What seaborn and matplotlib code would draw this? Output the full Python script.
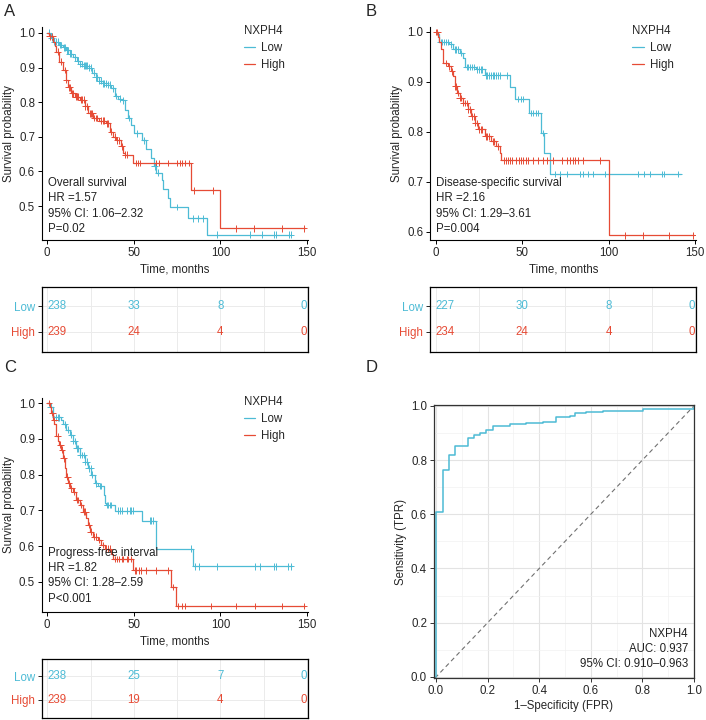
import numpy as np
import pandas as pd
import seaborn as sns
import matplotlib.pyplot as plt
from matplotlib.ticker import MultipleLocator

sns.set_style('ticks')
plt.rcParams['font.family'] = ['Liberation Sans', 'DejaVu Sans']
FS = 8.3
plt.rcParams['font.size'] = FS

LOW_COL = '#4DBBD5'
HIGH_COL = '#E64B35'
pal = {'Low': LOW_COL, 'High': HIGH_COL}

# ---- A: overall survival ----
a_low_t = [0, 2, 4, 7, 9, 11, 13, 15, 17, 19, 21, 24, 26, 28, 30, 32, 35, 37, 39, 41, 43, 44.8,
           46.7, 48.6, 50, 54.5, 57, 60, 61.5, 63, 66, 67, 70, 71, 81.5, 92.5, 141]
a_low_s = [1.0, 0.985, 0.975, 0.965, 0.958, 0.95, 0.94, 0.93, 0.92, 0.91, 0.905, 0.9, 0.885, 0.872,
           0.862, 0.855, 0.85, 0.84, 0.818, 0.81, 0.805, 0.778, 0.754, 0.735, 0.71, 0.69, 0.665, 0.64,
           0.615, 0.596, 0.575, 0.55, 0.523, 0.497, 0.465, 0.417, 0.417]
a_low_c = [1, 2.5, 4, 5, 6, 7.5, 8, 9.5, 10, 11.5, 12, 13, 14, 16, 17.5, 18, 19, 20, 21, 22, 22.5, 23,
           24, 25, 27, 28, 29, 30, 31, 32, 33, 34, 35, 36, 38, 40, 42, 44, 47, 52, 56, 62, 64, 74.7,
           84, 87, 90, 97.9, 117, 124, 130.7, 132, 139.4, 140.7]
a_high_t = [0, 1, 3.3, 4.5, 5.2, 7, 9, 10.6, 12, 14, 16, 18.7, 21.6, 23.5, 26.4, 30, 34, 36, 38, 40,
            42.8, 43.8, 44.8, 49.6, 83, 99.8, 148.6]
a_high_s = [1.0, 0.99, 0.975, 0.962, 0.946, 0.917, 0.893, 0.864, 0.843, 0.826, 0.816, 0.807, 0.788,
            0.768, 0.754, 0.747, 0.739, 0.715, 0.70, 0.69, 0.672, 0.653, 0.648, 0.624, 0.545, 0.436,
            0.436]
a_high_c = [1.5, 3, 6, 8, 10, 11, 12.5, 13, 14.5, 15, 16.5, 17, 18, 19.5, 20, 21, 22, 23, 24.5, 25,
            26, 27, 28, 29, 31, 32, 33, 34.5, 35, 37, 39, 40.5, 41.5, 43, 45, 46, 51.5, 52.5, 53.5,
            63, 64.6, 70, 74.7, 76.6, 78.1, 79.5, 82, 85, 96, 108.9, 119.5, 135.5, 148]
a_risk_low = [238, 33, 8, 0]
a_risk_high = [239, 24, 4, 0]

# ---- B: disease-specific survival ----
b_low_t = [0, 1.4, 2.3, 8, 10, 14, 16, 17, 23.5, 28.4, 43, 45.8, 54, 61.2, 62.5, 66, 141.9]
b_low_s = [1.0, 0.995, 0.98, 0.975, 0.965, 0.958, 0.948, 0.93, 0.925, 0.913, 0.89, 0.866, 0.838,
           0.798, 0.758, 0.716, 0.716]
b_low_c = [3, 4, 5, 6, 7, 9, 11, 12, 13, 15, 18, 19, 20, 21, 22, 24, 25, 26, 27, 29, 30, 31, 32, 33,
           34, 35, 36, 37, 41, 47.7, 49.6, 50.6, 55.4, 56.4, 58.3, 59.3, 62.2, 68.9, 71.8, 75.7,
           83.4, 85.3, 88.2, 91.1, 97.9, 117.2, 120.1, 124, 130.7, 131.7, 140.3]
b_high_t = [0, 1.4, 2.3, 3.3, 4.6, 7.1, 9, 10, 11, 12.4, 13.9, 15.8, 18.7, 20.7, 22.6, 24.5, 28.4,
            32.2, 35.1, 37, 38, 100.4, 149]
b_high_s = [1.0, 0.99, 0.98, 0.965, 0.938, 0.931, 0.921, 0.911, 0.891, 0.878, 0.868, 0.858, 0.845,
            0.831, 0.818, 0.805, 0.791, 0.781, 0.771, 0.758, 0.743, 0.593, 0.593]
b_high_c = [0.5, 1, 6, 8, 9.5, 11.5, 12, 13, 14, 15, 16, 17, 18, 19, 20, 21, 22, 23, 24, 25, 26, 27,
            29, 30, 31, 33, 34, 36, 39.4, 40.5, 41.9, 43.2, 44.4, 46.3, 48.3, 49.6, 50.6, 52.1,
            53.5, 56.4, 59.3, 62.2, 64.1, 68, 72.8, 75.7, 77.6, 79.2, 80.5, 82.4, 85.3, 95, 109.5,
            119.7, 135.1, 148.6]
b_risk_low = [227, 30, 8, 0]
b_risk_high = [234, 24, 4, 0]

# ---- C: progress-free interval ----
c_low_t = [0, 1.4, 3.3, 8.1, 9, 11, 13, 14.9, 16.8, 18.7, 21.6, 23.5, 25.5, 27.4, 29.3, 32.6, 33.2,
           34.2, 39, 55, 63.1, 84, 141.3]
c_low_s = [1.0, 0.99, 0.96, 0.953, 0.94, 0.925, 0.911, 0.894, 0.874, 0.855, 0.836, 0.818, 0.80,
           0.776, 0.768, 0.743, 0.72, 0.715, 0.699, 0.671, 0.593, 0.544, 0.544]
c_low_c = [2, 5, 6, 7, 10, 12, 14, 15, 16, 17, 18, 19, 20, 21, 22, 23, 24, 25, 26, 28.4, 30.3, 31,
           34.5, 35, 36, 37, 40.9, 41.9, 42.9, 45.8, 47.7, 48.6, 49.6, 59.3, 60.2, 61.2, 83, 85.3,
           87.8, 98.3, 119.7, 122.6, 131.1, 132.2, 138.8, 140.7]
c_high_t = [0, 1.4, 2.3, 3.3, 4.2, 5.2, 6.2, 7.1, 8.1, 9, 10, 11, 12, 13, 14.9, 16.8, 18.7, 20.7,
            22.6, 23.5, 24.5, 26.4, 29.3, 31.3, 33.2, 37.1, 38, 49.6, 71.2, 74.3, 148.6]
c_high_s = [1.0, 0.99, 0.972, 0.953, 0.94, 0.907, 0.893, 0.883, 0.869, 0.846, 0.818, 0.794, 0.776,
            0.762, 0.752, 0.729, 0.715, 0.696, 0.678, 0.659, 0.64, 0.626, 0.617, 0.603, 0.593,
            0.579, 0.564, 0.533, 0.486, 0.433, 0.433]
c_high_c = [1, 3, 4, 6, 7.5, 8.5, 9.5, 11.5, 12.5, 14, 15.5, 17, 18, 19.5, 21, 22, 24, 25, 27, 28,
            30, 32, 34.2, 35.1, 36.1, 39, 40.3, 41.5, 42.9, 43.8, 45.8, 46.7, 48.1, 50.6, 51.5,
            53.1, 54.4, 57.3, 63.1, 69.9, 72.8, 75.7, 77.6, 79.5, 94.4, 109, 119.7, 135.5, 148.1]
c_risk_low = [238, 25, 7, 0]
c_risk_high = [239, 19, 4, 0]

risk_times = [0, 50, 100, 150]

# ---- D: ROC ----
roc_fpr = [0, 0, 0.026, 0.049, 0.075, 0.123, 0.149, 0.172, 0.194, 0.22, 0.285, 0.35, 0.415, 0.464,
           0.518, 0.538, 0.583, 0.648, 0.803, 1.0]
roc_tpr = [0, 0.61, 0.765, 0.82, 0.852, 0.883, 0.891, 0.901, 0.91, 0.926, 0.932, 0.938, 0.941,
           0.957, 0.963, 0.972, 0.978, 0.981, 0.99, 0.996]


def surv_at(t_steps, s_steps, t):
    idx = np.searchsorted(t_steps, t, side='right') - 1
    return np.asarray(s_steps)[idx]


def km_panel(ax, lt, ls, lc, ht, hs, hc, ylim, yticks, note, note_y):
    df = pd.concat([pd.DataFrame({'time': lt, 'surv': ls, 'NXPH4': 'Low'}),
                    pd.DataFrame({'time': ht, 'surv': hs, 'NXPH4': 'High'})])
    sns.lineplot(data=df, x='time', y='surv', hue='NXPH4', palette=pal, drawstyle='steps-post',
                 estimator=None, lw=0.9, ax=ax)
    cens = pd.concat([pd.DataFrame({'time': lc, 'surv': surv_at(lt, ls, lc), 'NXPH4': 'Low'}),
                      pd.DataFrame({'time': hc, 'surv': surv_at(ht, hs, hc), 'NXPH4': 'High'})])
    sns.scatterplot(data=cens, x='time', y='surv', hue='NXPH4', palette=pal, marker='+', s=24,
                    linewidth=0.7, legend=False, ax=ax)
    ax.set_xlim(-3, 150.6)
    ax.set_ylim(*ylim)
    ax.set_xticks([0, 50, 100, 150])
    ax.set_yticks(yticks)
    ax.set_xlabel('Time, months', fontsize=FS, labelpad=3)
    ax.set_ylabel('Survival probability', fontsize=FS, labelpad=3)
    ax.tick_params(length=3, width=0.7, labelsize=FS, color='black', pad=2)
    sns.despine(ax=ax)
    for sp in ['left', 'bottom']:
        ax.spines[sp].set_linewidth(0.8)
        ax.spines[sp].set_color('black')
    sns.move_legend(ax, 'upper left', bbox_to_anchor=(0.72, 1.06), frameon=False, title='NXPH4',
                    fontsize=FS, title_fontsize=FS, handlelength=1.0, handletextpad=0.5,
                    labelspacing=0.45, alignment='left')
    ax.text(0.022, note_y, note, transform=ax.transAxes, ha='left', va='bottom', fontsize=FS,
            linespacing=1.35, color='#222222')


def risk_table(ax, low_n, high_n):
    has = ['left', 'center', 'center', 'right']
    for t, n, ha in zip(risk_times, low_n, has):
        ax.text(t, 2, str(n), color=LOW_COL, ha=ha, va='center', fontsize=FS)
    for t, n, ha in zip(risk_times, high_n, has):
        ax.text(t, 1, str(n), color=HIGH_COL, ha=ha, va='center', fontsize=FS)
    ax.set_xlim(-3, 150.6)
    ax.set_ylim(0.2, 2.76)
    ax.set_xticks(risk_times)
    ax.xaxis.set_minor_locator(MultipleLocator(25))
    ax.set_xticklabels([])
    ax.set_yticks([1, 2])
    ax.set_yticklabels(['High', 'Low'])
    for lab, col in zip(ax.get_yticklabels(), [HIGH_COL, LOW_COL]):
        lab.set_color(col)
    ax.tick_params(axis='x', which='both', length=0)
    ax.tick_params(axis='y', length=3, width=0.7, labelsize=FS, pad=2)
    ax.grid(True, which='both', color='#EBEBEB', lw=0.7)
    ax.set_axisbelow(True)
    for sp in ax.spines.values():
        sp.set_visible(True)
        sp.set_linewidth(0.9)
        sp.set_color('black')
    ax.set_xlabel('')
    ax.set_ylabel('')


fig = plt.figure(figsize=(7.06, 7.2), dpi=100)

ax_a = fig.add_axes([0.0595, 0.6667, 0.3768, 0.2958])
ax_at = fig.add_axes([0.0595, 0.5111, 0.3768, 0.0903])
ax_b = fig.add_axes([0.6095, 0.6667, 0.3768, 0.2958])
ax_bt = fig.add_axes([0.6095, 0.5111, 0.3768, 0.0903])
ax_c = fig.add_axes([0.0595, 0.15, 0.3768, 0.2972])
ax_ct = fig.add_axes([0.0595, 0.0028, 0.3768, 0.082])
ax_d = fig.add_axes([0.6147, 0.0583, 0.3683, 0.3792])

km_panel(ax_a, a_low_t, a_low_s, a_low_c, a_high_t, a_high_s, a_high_c, (0.402, 1.017),
         [0.5, 0.6, 0.7, 0.8, 0.9, 1.0], 'Overall survival\nHR =1.57\n95% CI: 1.06–2.32\nP=0.02',
         0.025)
risk_table(ax_at, a_risk_low, a_risk_high)

km_panel(ax_b, b_low_t, b_low_s, b_low_c, b_high_t, b_high_s, b_high_c, (0.584, 1.01),
         [0.6, 0.7, 0.8, 0.9, 1.0],
         'Disease-specific survival\nHR =2.16\n95% CI: 1.29–3.61\nP=0.004', 0.025)
risk_table(ax_bt, b_risk_low, b_risk_high)

km_panel(ax_c, c_low_t, c_low_s, c_low_c, c_high_t, c_high_s, c_high_c, (0.416, 1.014),
         [0.5, 0.6, 0.7, 0.8, 0.9, 1.0],
         'Progress-free interval\nHR =1.82\n95% CI: 1.28–2.59\nP<0.001', 0.035)
risk_table(ax_ct, c_risk_low, c_risk_high)

# ROC
roc = pd.DataFrame({'fpr': roc_fpr, 'tpr': roc_tpr})
ax_d.axline((0, 0), slope=1, color='#707070', lw=0.8, ls=(0, (4, 3)))
sns.lineplot(data=roc, x='fpr', y='tpr', drawstyle='steps-post', estimator=None, sort=False,
             color=LOW_COL, lw=1.1, ax=ax_d)
ax_d.set_xlim(-0.008, 1.0)
ax_d.set_ylim(-0.004, 1.003)
ax_d.set_xticks(np.arange(0, 1.01, 0.2))
ax_d.set_yticks(np.arange(0, 1.01, 0.2))
ax_d.xaxis.set_minor_locator(MultipleLocator(0.1))
ax_d.yaxis.set_minor_locator(MultipleLocator(0.1))
ax_d.grid(True, which='major', color='#E3E3E3', lw=0.8)
ax_d.grid(True, which='minor', color='#F1F1F1', lw=0.5)
ax_d.set_axisbelow(True)
ax_d.tick_params(which='major', length=3, width=0.7, labelsize=FS, pad=2, color='#333333')
ax_d.tick_params(which='minor', length=0)
for sp in ax_d.spines.values():
    sp.set_visible(True)
    sp.set_linewidth(0.9)
    sp.set_color('#333333')
ax_d.set_xlabel('1–Specificity (FPR)', fontsize=FS, labelpad=2)
ax_d.set_ylabel('Sensitivity (TPR)', fontsize=FS, labelpad=3)
ax_d.text(0.977, 0.03, 'NXPH4\nAUC: 0.937\n95% CI: 0.910–0.963', transform=ax_d.transAxes,
          ha='right', va='bottom', fontsize=FS, linespacing=1.35, color='#222222')

for lab, x, y in [('A', 0.006, 0.994), ('B', 0.518, 0.994), ('C', 0.006, 0.5), ('D', 0.518, 0.5)]:
    fig.text(x, y, lab, fontsize=12, va='top', ha='left')

fig.savefig('out.png', dpi=100)
